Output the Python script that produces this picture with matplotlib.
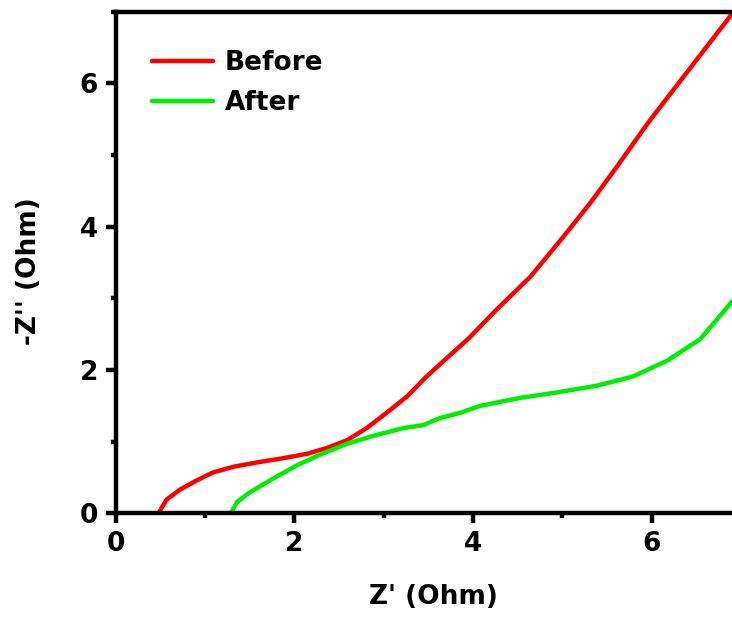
import matplotlib
matplotlib.use("Agg")
import matplotlib.pyplot as plt
from matplotlib.ticker import FixedLocator, MultipleLocator

# Nyquist data, Z' vs -Z'' in Ohm
before_zre = [0.48, 0.57, 0.72, 0.91, 1.09, 1.32, 1.58, 1.88, 2.14, 2.36, 2.59,
              2.81, 3.03, 3.26, 3.48, 3.70, 3.95, 4.26, 4.64, 5.01, 5.31, 5.61,
              5.90, 6.00, 6.89]
before_zim = [0.00, 0.19, 0.33, 0.46, 0.57, 0.65, 0.71, 0.77, 0.83, 0.91, 1.02,
              1.19, 1.40, 1.63, 1.91, 2.16, 2.44, 2.84, 3.30, 3.86, 4.33, 4.84,
              5.35, 5.52, 6.96]

after_zre = [1.29, 1.36, 1.50, 1.77, 2.03, 2.29, 2.59, 2.88, 3.22, 3.44, 3.63,
             3.85, 4.08, 4.52, 4.90, 5.38, 5.79, 6.17, 6.54, 6.90]
after_zim = [0.00, 0.16, 0.29, 0.49, 0.67, 0.82, 0.97, 1.08, 1.19, 1.23, 1.33,
             1.40, 1.50, 1.61, 1.68, 1.78, 1.91, 2.13, 2.43, 2.96]

x_major = [0, 2, 4, 6]

plt.rcParams["font.family"] = ["DejaVu Sans"]
plt.rcParams["font.weight"] = "bold"

fig = plt.figure(figsize=(7.32, 6.21), dpi=100)
# axes run past the right edge of the canvas, so the right spine is cut off
ax = fig.add_axes([0.1578, 0.1734, 0.977, 0.8077])

ax.plot(before_zre, before_zim, color="#ff0000", lw=3.2, label="Before",
        solid_capstyle="round", solid_joinstyle="round")
ax.plot(after_zre, after_zim, color="#00ee00", lw=3.2, label="After",
        solid_capstyle="round", solid_joinstyle="round")

ax.set_xlim(0, 8)
ax.set_ylim(0, 7)
ax.xaxis.set_major_locator(FixedLocator(x_major))
ax.xaxis.set_minor_locator(MultipleLocator(1))
ax.yaxis.set_major_locator(MultipleLocator(2))
ax.yaxis.set_minor_locator(MultipleLocator(1))

for side in ax.spines.values():
    side.set_linewidth(3.2)
ax.tick_params(which="major", direction="out", length=7.5, width=3.2,
               labelsize=19, pad=5)
ax.tick_params(which="minor", direction="out", length=3.5, width=3.2)
ax.tick_params(top=False, right=False, which="both")
for lab in ax.get_xticklabels() + ax.get_yticklabels():
    lab.set_fontweight("bold")

ax.set_xlabel("Z' (Ohm)", fontsize=19, fontweight="bold")
ax.set_ylabel("-Z'' (Ohm)", fontsize=19, fontweight="bold")
ax.xaxis.set_label_coords(0.445, -0.14)
ax.yaxis.set_label_coords(-0.103, 0.483)

ax.legend(loc="upper left", bbox_to_anchor=(0.036, 0.945), frameon=False,
          prop={"size": 19, "weight": "bold"}, handlelength=2.3,
          handletextpad=0.45, labelspacing=0.55, borderaxespad=0)

fig.savefig("out.png", dpi=100)
